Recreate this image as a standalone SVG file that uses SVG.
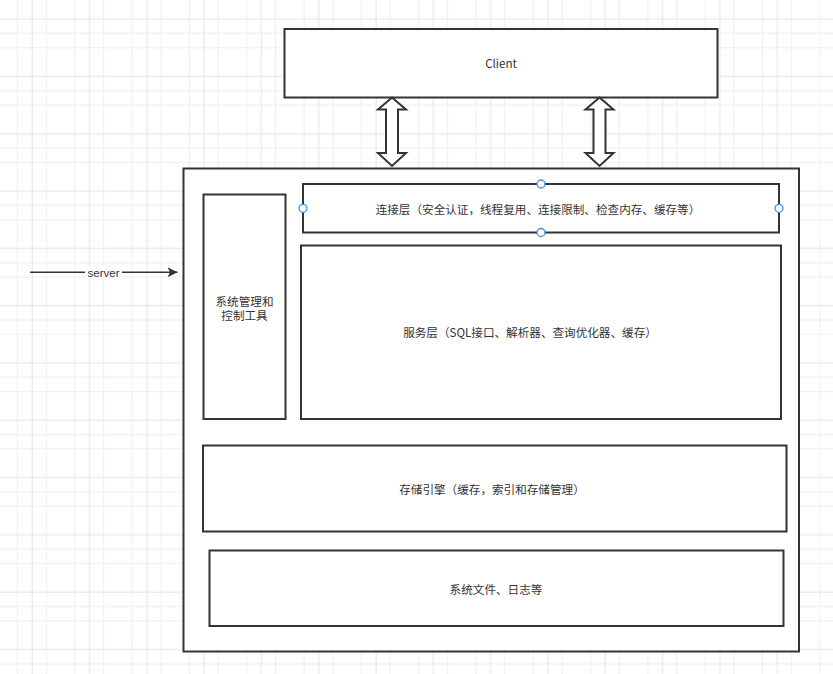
<svg xmlns="http://www.w3.org/2000/svg" width="833" height="674" viewBox="0 0 833 674">
<defs>
<pattern id="grid" x="3.3" y="4.7" width="57.3" height="57.3" patternUnits="userSpaceOnUse">
<path d="M14.3 0V57.3M28.7 0V57.3M43 0V57.3M0 14.3H57.3M0 28.7H57.3M0 43H57.3" stroke="#f0f0f0" stroke-width="1.2" fill="none"/>
</pattern>
<pattern id="gridMajor" x="32" y="19" width="57.3" height="57.3" patternUnits="userSpaceOnUse">
<path d="M0 0V57.3M0 0H57.3" stroke="#e4e4e4" stroke-width="1.2" fill="none"/>
</pattern>
<marker id="arr" markerWidth="10" markerHeight="10" refX="10" refY="5" orient="auto" markerUnits="userSpaceOnUse">
<path d="M0 0L10 5L0 10L2.5 5Z" fill="#333"/>
</marker>
<symbol id="dbl" overflow="visible">
<path d="M0 0L14 12H6V55.5H14L0 68.5L-14 55.5H-6V12H-14Z" fill="#fff" stroke="#333" stroke-width="2" stroke-linejoin="miter"/>
</symbol>
</defs>
<style>
.box{fill:#fff;stroke:#333;stroke-width:2}
.t{font-family:"Noto Sans CJK SC","Noto Sans",sans-serif;font-size:11.6px;fill:#333;text-anchor:middle;dominant-baseline:central}
.h{fill:#fff;stroke:#3d8ef5;stroke-width:1.3}
</style>
<rect width="833" height="674" fill="#fff"/>
<rect width="833" height="674" fill="url(#grid)"/>
<rect width="833" height="674" fill="url(#gridMajor)"/>

<g id="client">
<rect class="box" x="284.5" y="29" width="433" height="68.5"/>
<text class="t" x="501" y="62.5">Client</text>
</g>

<g id="server">
<rect class="box" x="183.5" y="168.5" width="615.5" height="483"/>
</g>

<g id="tools">
<rect class="box" x="203.5" y="194.5" width="82" height="224.5"/>
<text class="t" x="244.5" y="300.5">系统管理和</text>
<text class="t" x="244.5" y="315">控制工具</text>
</g>

<g id="conn-layer">
<rect class="box" x="303" y="184" width="476" height="48.5"/>
<text class="t" x="538" y="208.5">连接层（安全认证，线程复用、连接限制、检查内存、缓存等）</text>
<circle class="h" cx="541" cy="184" r="4"/>
<circle class="h" cx="541" cy="232.5" r="4"/>
<circle class="h" cx="303" cy="208.3" r="4"/>
<circle class="h" cx="779" cy="208.3" r="4"/>
</g>

<g id="service-layer">
<rect class="box" x="301" y="245.5" width="480" height="173.5"/>
<text class="t" x="530" y="332">服务层（SQL接口、解析器、查询优化器、缓存）</text>
</g>

<g id="storage">
<rect class="box" x="203" y="445.5" width="583.5" height="86"/>
<text class="t" x="492" y="489">存储引擎（缓存，索引和存储管理）</text>
</g>

<g id="files">
<rect class="box" x="209.5" y="550.5" width="574" height="75.5"/>
<text class="t" x="496" y="588.5">系统文件、日志等</text>
</g>

<g id="connectors">
<use href="#dbl" x="392" y="97.5"/>
<use href="#dbl" x="599.5" y="97.5"/>
<line x1="30" y1="272.3" x2="177.5" y2="272.3" stroke="#333" stroke-width="1.6" marker-end="url(#arr)"/>
<rect x="85" y="266" width="37" height="13" fill="#fff"/>
<text class="t" x="103.5" y="272.5" style="font-family:'Liberation Sans','Noto Sans',sans-serif;font-size:11.5px">server</text>
</g>
</svg>
